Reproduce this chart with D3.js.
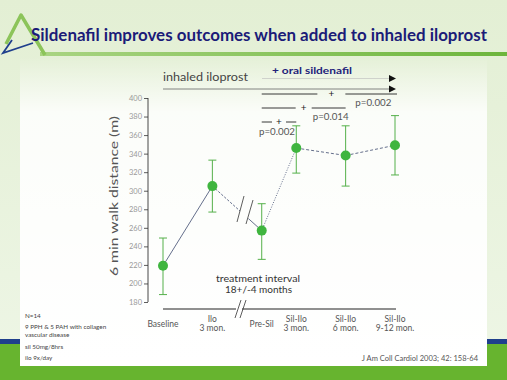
<!DOCTYPE html>
<html><head><meta charset="utf-8">
<script src="https://cdn.jsdelivr.net/npm/d3@7"></script>
<style>html,body{margin:0;padding:0;overflow:hidden;background:#fff}</style>
</head><body><svg id="c" width="507" height="380"></svg>
<script>
// ---------- data ----------
const categories = ["Baseline", "Ilo 3 mon.", "Pre-Sil", "Sil-Ilo 3 mon.", "Sil-Ilo 6 mon.", "Sil-Ilo 9-12 mon."];
const labelLine1 = ["Baseline", "Ilo", "Pre-Sil", "Sil-Ilo", "Sil-Ilo", "Sil-Ilo"];
const labelLine2 = ["", "3 mon.", "", "3 mon.", "6 mon.", "9-12 mon."];
const means = [219, 305, 257, 346, 338, 349];
const upper = [249, 333, 286, 370, 370, 381];
const lower = [188, 277, 226, 319, 305, 317];
const yTicks = [180, 200, 220, 240, 260, 280, 300, 320, 340, 360, 380, 400];
const pValues = ["p=0.002", "p=0.014", "p=0.002"];
const pTo = [5, 4, 3];   // comparison target category index (from Pre-Sil)
const notes = ["N=14", "9 PPH & 5 PAH with collagen", "vascular disease", "sil 50mg/8hrs", "ilo 9x/day"];
const titleText = "Sildenafil improves outcomes when added to inhaled iloprost";
const citation = "J Am Coll Cardiol 2003; 42: 158-64";

// ---------- drawing ----------
const svg = d3.select("#c");
const defs = svg.append("defs");
const bg = defs.append("linearGradient").attr("id", "bg").attr("x1", 0).attr("y1", 0).attr("x2", 0).attr("y2", 1);
bg.append("stop").attr("offset", 0).attr("stop-color", "#e3efd4");
bg.append("stop").attr("offset", 1).attr("stop-color", "#eef6e6");
const wf = defs.append("linearGradient").attr("id", "wf").attr("x1", 0).attr("y1", 0).attr("x2", 0).attr("y2", 1);
wf.append("stop").attr("offset", 0).attr("stop-color", "#fff").attr("stop-opacity", 0);
wf.append("stop").attr("offset", 0.18).attr("stop-color", "#fff").attr("stop-opacity", 0.85);
wf.append("stop").attr("offset", 1).attr("stop-color", "#fff").attr("stop-opacity", 1);
const tl = defs.append("linearGradient").attr("id", "tl").attr("x1", 0).attr("y1", 0).attr("x2", 1).attr("y2", 0);
tl.append("stop").attr("offset", 0).attr("stop-color", "#a9d482");
tl.append("stop").attr("offset", 1).attr("stop-color", "#6db53c");

svg.append("rect").attr("width", 507).attr("height", 380).attr("fill", "url(#bg)");
svg.append("rect").attr("x", 20).attr("y", 57).attr("width", 467).attr("height", 309).attr("fill", "url(#wf)");
// bottom bars
svg.append("rect").attr("x", 0).attr("y", 339).attr("width", 20).attr("height", 5).attr("fill", "#1f3f8c");
svg.append("rect").attr("x", 487).attr("y", 339).attr("width", 20).attr("height", 5).attr("fill", "#1f3f8c");
svg.append("rect").attr("x", 0).attr("y", 344).attr("width", 20).attr("height", 22).attr("fill", "#67b42f");
svg.append("rect").attr("x", 487).attr("y", 344).attr("width", 20).attr("height", 22).attr("fill", "#67b42f");
svg.append("rect").attr("x", 0).attr("y", 366).attr("width", 507).attr("height", 14).attr("fill", "#67b42f");

// title decoration
svg.append("rect").attr("x", 40).attr("y", 52).attr("width", 467).attr("height", 4).attr("fill", "url(#tl)");
svg.append("path").attr("d", "M6,44 L21,15 L45,55").attr("fill", "none").attr("stroke", "#8cc45a").attr("stroke-width", 3.5).attr("stroke-linejoin", "round");
svg.append("path").attr("d", "M33,43 L3,53 L12,40").attr("fill", "none").attr("stroke", "#1f3f8c").attr("stroke-width", 1.8);
svg.append("text").attr("x", 31).attr("y", 41).attr("font-family", "Lato, 'DejaVu Sans', sans-serif")
  .attr("font-weight", "bold").attr("font-size", 16.5).attr("fill", "#1b1b78")
  .attr("textLength", 456).attr("lengthAdjust", "spacingAndGlyphs").text(titleText);

const font = "Lato, 'Open Sans', sans-serif";

// scales
const y = d3.scaleLinear().domain([180, 400]).range([302, 98]);
const slot = i => (i < 3 ? i : i - 0.3);
const x = d3.scaleLinear().domain([0, 4.7]).range([163, 395]);
const xc = i => x(slot(i));

// y axis
const ya = svg.append("g").attr("transform", "translate(148,0)")
  .call(d3.axisLeft(y).tickValues(yTicks).tickSize(4).tickPadding(2));
ya.select(".domain").attr("stroke", "#333").attr("stroke-width", 0.9).attr("d", `M0,${y(180)}V${y(400)}`);
ya.selectAll(".tick line").attr("stroke", "#333").attr("stroke-width", 0.8);
ya.selectAll(".tick text").attr("font-family", font).attr("font-size", 7.5).attr("fill", "#999");

svg.append("text").attr("transform", "translate(118,196) rotate(-90)").attr("text-anchor", "middle")
  .attr("font-family", font).attr("font-size", 12).attr("fill", "#555")
  .attr("textLength", 160).attr("lengthAdjust", "spacingAndGlyphs").text("6 min walk distance (m)");

// x axis line with break
svg.append("line").attr("x1", 163).attr("x2", 396).attr("y1", 309).attr("y2", 309).attr("stroke", "#222").attr("stroke-width", 1);
svg.append("rect").attr("x", 236).attr("y", 306).attr("width", 6).attr("height", 6).attr("fill", "#fff");
[238, 243].forEach(a => {
  svg.append("line").attr("x1", a + 3).attr("y1", 300).attr("x2", a - 3).attr("y2", 318).attr("stroke", "#333").attr("stroke-width", 0.8);
});

// category labels
categories.forEach((c, i) => {
  const t = svg.append("text").attr("text-anchor", "middle").attr("font-family", font).attr("font-size", 8.5).attr("fill", "#555");
  if (labelLine2[i]) {
    t.append("tspan").attr("x", xc(i)).attr("y", 322).text(labelLine1[i]);
    t.append("tspan").attr("x", xc(i)).attr("y", 331).text(labelLine2[i]);
  } else {
    t.append("tspan").attr("x", xc(i)).attr("y", 327).text(labelLine1[i]);
  }
});

// connecting lines
const lc = "#3e4a6e";
const P = i => [xc(i), y(means[i])];
const seg = (a, b, dash) => svg.append("line").attr("x1", a[0]).attr("y1", a[1]).attr("x2", b[0]).attr("y2", b[1])
  .attr("stroke", lc).attr("stroke-width", 0.8).attr("stroke-dasharray", dash || null);
seg(P(0), P(1));
const lerp = (a, b, t) => [a[0] + (b[0] - a[0]) * t, a[1] + (b[1] - a[1]) * t];
seg(P(1), lerp(P(1), P(2), 0.56), "2.5,1.5");
seg(lerp(P(1), P(2), 0.73), P(2));
// break marks on line
[[244, 196, 237, 222], [253, 200, 246, 224]].forEach(d => {
  svg.append("line").attr("x1", d[0]).attr("y1", d[1]).attr("x2", d[2]).attr("y2", d[3]).attr("stroke", "#333").attr("stroke-width", 0.8);
});
seg(P(2), P(3), "1,1.5");
seg(P(3), P(4), "3,2");
seg(P(4), P(5), "3,2");

// error bars
const gc = "#55b04a";
categories.forEach((c, i) => {
  const cx = xc(i);
  svg.append("line").attr("x1", cx).attr("x2", cx).attr("y1", y(upper[i])).attr("y2", y(lower[i])).attr("stroke", gc).attr("stroke-width", 1);
  [upper[i], lower[i]].forEach(v => svg.append("line").attr("x1", cx - 4).attr("x2", cx + 4).attr("y1", y(v)).attr("y2", y(v)).attr("stroke", gc).attr("stroke-width", 1));
});
svg.selectAll("circle.pt").data(means).enter().append("circle").attr("class", "pt")
  .attr("cx", (d, i) => xc(i)).attr("cy", d => y(d)).attr("r", 5).attr("fill", "#3fb53f");

// top annotations
svg.append("text").attr("x", 163).attr("y", 81).attr("font-family", font).attr("font-size", 11).attr("fill", "#444")
  .attr("textLength", 85).attr("lengthAdjust", "spacingAndGlyphs").text("inhaled iloprost");
svg.append("line").attr("x1", 163).attr("x2", 390).attr("y1", 89).attr("y2", 89).attr("stroke", "#666").attr("stroke-width", 0.8);
svg.append("path").attr("d", "M389,85.5 L396,89 L389,92.5 Z").attr("fill", "#111");
svg.append("text").attr("x", 272).attr("y", 74).attr("font-family", font).attr("font-weight", "bold").attr("font-size", 10).attr("fill", "#22227a")
  .attr("textLength", 80).attr("lengthAdjust", "spacingAndGlyphs").text("+ oral sildenafil");
svg.append("line").attr("x1", 262).attr("x2", 390).attr("y1", 78.5).attr("y2", 78.5).attr("stroke", "#bbb").attr("stroke-width", 0.6);
svg.append("path").attr("d", "M389,75 L396,78.5 L389,82 Z").attr("fill", "#111");

// significance brackets
const byY = [94, 108, 122];
const gaps = [14, 8, 7];
const txOff = [[42, 12], [27, 12], [-2, 13]];
pValues.forEach((p, k) => {
  const x0 = xc(2), x1 = xc(pTo[k]) + (k === 0 ? 2 : 0);
  const m = (x0 + x1) / 2 + (k === 0 ? 2 : 0);
  const yy = byY[k];
  svg.append("line").attr("x1", x0).attr("x2", m - gaps[k]).attr("y1", yy).attr("y2", yy).attr("stroke", "#222").attr("stroke-width", 0.9);
  svg.append("line").attr("x1", m + gaps[k]).attr("x2", x1).attr("y1", yy).attr("y2", yy).attr("stroke", "#222").attr("stroke-width", 0.9);
  svg.append("text").attr("x", m).attr("y", yy + 3).attr("text-anchor", "middle").attr("font-family", font).attr("font-size", 10).attr("fill", "#222").text("+");
  svg.append("text").attr("x", m + txOff[k][0] - 18).attr("y", yy + txOff[k][1])
    .attr("font-family", font).attr("font-size", 8.5).attr("fill", "#555")
    .attr("textLength", 36).attr("lengthAdjust", "spacingAndGlyphs").text(p);
});

// treatment interval
svg.append("text").attr("x", 216).attr("y", 282).attr("font-family", font).attr("font-size", 10).attr("fill", "#333")
  .attr("textLength", 84).attr("lengthAdjust", "spacingAndGlyphs").text("treatment interval");
svg.append("text").attr("x", 225).attr("y", 293).attr("font-family", font).attr("font-size", 10).attr("fill", "#333")
  .attr("textLength", 67).attr("lengthAdjust", "spacingAndGlyphs").text("18+/-4 months");

// notes
const noteY = [318, 328.5, 336.5, 348.5, 360];
notes.forEach((n, i) => svg.append("text").attr("x", 25).attr("y", noteY[i]).attr("font-family", font).attr("font-size", 6.3).attr("fill", "#444").text(n));
svg.append("text").attr("x", 478).attr("y", 361).attr("text-anchor", "end").attr("font-family", font).attr("font-size", 7.5).attr("fill", "#555").text(citation);
</script></body></html>
